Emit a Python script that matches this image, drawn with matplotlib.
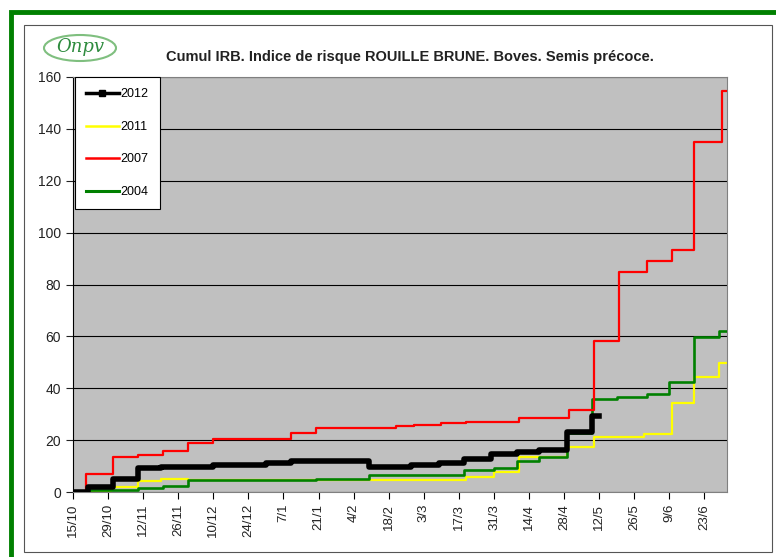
import matplotlib.pyplot as plt
from matplotlib.lines import Line2D
from matplotlib.patches import Rectangle, Ellipse

plt.rcParams['font.family'] = ['Liberation Sans', 'DejaVu Sans']

# x = days since 15/10, y = cumulative IRB index (step after each day)
tick_labels = ["15/10", "29/10", "12/11", "26/11", "10/12", "24/12", "7/1", "21/1", "4/2",
               "18/2", "3/3", "17/3", "31/3", "14/4", "28/4", "12/5", "26/5", "9/6", "23/6"]

days_2012 = [0, 6, 16, 26, 35, 56, 77, 87, 118, 135, 146, 156, 167, 177, 186, 197, 207, 210]
irb_2012 = [0, 2, 5, 9.3, 9.8, 10.4, 11, 12, 9.7, 10.4, 11, 12.7, 14.7, 15.4, 16.2, 23.1, 29.3, 29.3]

days_2011 = [0, 15, 26, 35, 46, 157, 168, 178, 197, 208, 228, 239, 248, 258, 261]
irb_2011 = [0, 2, 4.2, 5, 4.8, 5.8, 7.7, 13.5, 17.4, 21.2, 22.3, 34.3, 44.3, 49.7, 49.7]

days_2007 = [0, 5, 16, 26, 36, 46, 56, 87, 97, 129, 136, 147, 157, 178, 198, 208, 218,
             229, 239, 248, 259, 261]
irb_2007 = [0, 7, 13.5, 14.3, 15.8, 18.9, 20.4, 22.7, 24.7, 25.4, 25.9, 26.6, 27, 28.5,
            31.6, 58.2, 84.8, 89, 93.3, 135, 154.6, 154.6]

days_2004 = [0, 6, 26, 36, 46, 97, 118, 156, 168, 177, 186, 197, 207, 217, 229, 238,
             248, 258, 261]
irb_2004 = [0, 0.8, 1.5, 2.5, 4.5, 5, 6.5, 8.5, 9.2, 11.9, 13.4, 22.7, 35.8, 36.6, 37.8,
            42.4, 59.8, 62.1, 62.1]

fig = plt.figure(figsize=(7.76, 5.57), dpi=100)
ax = fig.add_axes([73/776, 1 - 492/557, (727 - 73)/776, (492 - 77)/557])
ax.set_facecolor('#c0c0c0')

ax.plot(days_2011, irb_2011, drawstyle='steps-post', color='#ffff00', lw=1.6, zorder=2)
ax.plot(days_2004, irb_2004, drawstyle='steps-post', color='#008000', lw=1.9, zorder=3)
ax.plot(days_2007, irb_2007, drawstyle='steps-post', color='#ff0000', lw=1.6, zorder=4)
ax.plot(days_2012, irb_2012, drawstyle='steps-post', color='black', lw=4, zorder=5)

ax.set_xlim(0, 261)
ax.set_ylim(0, 160)
ax.set_yticks(range(0, 161, 20))
ax.set_xticks(range(0, 14 * len(tick_labels), 14))
ax.set_xticklabels(tick_labels, rotation=90, fontsize=9.5, color='#222222')
ax.tick_params(axis='y', labelsize=10, colors='#222222', length=5)
ax.tick_params(axis='x', length=5)
ax.yaxis.grid(True, color='black', lw=0.8)
ax.set_axisbelow(True)
for s in ['top', 'right']:
    ax.spines[s].set_color('#808080')
ax.spines['bottom'].set_color('#808080')

handles = [Line2D([], [], color='black', lw=2.5, marker='s', markersize=4),
           Line2D([], [], color='#ffff00', lw=1.8),
           Line2D([], [], color='#ff0000', lw=1.8),
           Line2D([], [], color='#008000', lw=2.2)]
leg = ax.legend(handles, ['2012', '2011', '2007', '2004'], loc='upper left',
                bbox_to_anchor=(0.003, 1.0), borderaxespad=0, fancybox=False,
                edgecolor='black', framealpha=1, fontsize=9, labelspacing=1.65,
                handlelength=2.6, handletextpad=0.15, borderpad=0.9)
leg.get_frame().set_linewidth(0.8)
leg.set_zorder(10)

fig.text(410/776, 1 - 57/557, "Cumul IRB. Indice de risque ROUILLE BRUNE. Boves. Semis précoce.",
         ha='center', va='center', fontsize=10.5, fontweight='bold', color='#222222')

# logo
fig.add_artist(Ellipse((80/776, 1 - 48/557), 72/776, 26/557, transform=fig.transFigure,
                       fill=False, edgecolor='#7fbf7f', lw=1.5))
fig.text(80/776, 1 - 47/557, "Onpv", ha='center', va='center', fontsize=13,
         style='italic', color='#2e8b3e', family='DejaVu Serif')

# frames
fig.add_artist(Rectangle((24/776, 1 - 552/557), (772 - 24)/776, (552 - 25)/557,
                         transform=fig.transFigure, fill=False, edgecolor='#555555', lw=0.8))
fig.add_artist(Rectangle((10.5/776, -0.05), 1.2, 1.05 - 12/557,
                         transform=fig.transFigure, fill=False, edgecolor='#008000', lw=3.5))

fig.savefig('out.png', dpi=100)
